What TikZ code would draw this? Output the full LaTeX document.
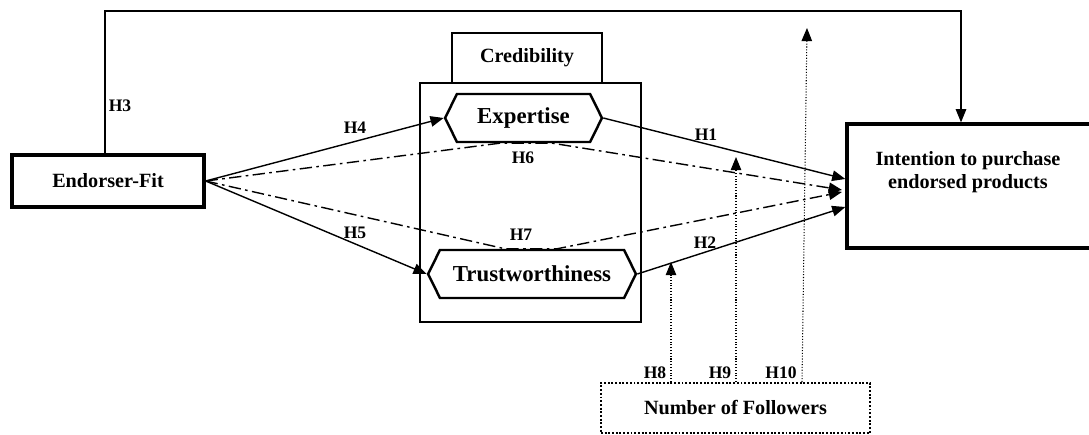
\documentclass[tikz,border=0pt]{standalone}
\usepackage{fontspec}
\setmainfont{Liberation Serif}
\usetikzlibrary{arrows.meta,calc,shapes.symbols}
\tikzset{
  doboz/.style={draw,line width=1.2pt,font=\bfseries\fontsize{11.5}{13}\selectfont,inner sep=2pt},
  vastag/.style={doboz,line width=1.9pt},
  hatszog/.style={draw,line width=1.4pt,signal,signal to=east and west,signal pointer angle=127,
                  font=\bfseries\fontsize{13}{15}\selectfont,inner sep=2pt},
  pontdoboz/.style={doboz,line width=1.1pt,densely dotted},
  nyil/.style={-{Triangle[length=7.5pt,width=6pt]},line width=0.8pt},
  pvnyil/.style={nyil,dash pattern=on 7pt off 2.5pt on 1.5pt off 2.5pt},
  pnyil/.style={nyil,line width=0.6pt,densely dotted},
  cimke/.style={font=\bfseries\fontsize{10}{12}\selectfont,inner sep=1pt},
}
\begin{document}
\begin{tikzpicture}[x=0.02cm,y=-0.02cm]
  \useasboundingbox (0,0) rectangle (1089,435);
  \clip (0,0) rectangle (1089,435);
  % konstruktumok
  \node[vastag,minimum width=3.84cm,minimum height=1.04cm] (efit) at (108,181) {Endorser-Fit};
  \node[doboz,minimum width=3.0cm,minimum height=1.0cm] (credlbl) at (527,58) {Credibility};
  \node[doboz,minimum width=4.42cm,minimum height=4.78cm] (cred) at (530.5,202.5) {};
  \node[hatszog,minimum width=3.14cm,minimum height=0.96cm] (exp) at (523.5,118) {Expertise};
  \node[hatszog,minimum width=4.16cm,minimum height=0.96cm] (trust) at (532,274) {Trustworthiness};
  \node[vastag,minimum width=4.96cm,minimum height=2.48cm] (intent) at (971,186) {};
  \node[doboz,draw=none,align=center] (intentlbl) at (968,172) {Intention to purchase\\endorsed products};
  \node[pontdoboz,minimum width=5.38cm,minimum height=1.0cm] (foll) at (735.5,408) {Number of Followers};
  % kozvetlen hatasok
  \coordinate (topL) at (105,11);
  \coordinate (topR) at (961,11);
  \draw[nyil,line width=0.6pt] (efit.north -| topL) -- (topL) -- (topR) -- (intent.north -| topR);
  \draw[nyil] (efit.east) -- (exp.west);
  \draw[nyil] (efit.east) -- (trust.west);
  \draw[nyil] (exp.east) -- (intent.west |- 0,179);
  \draw[nyil] (trust.east) -- (intent.west |- 0,207);
  % kozvetett hatasok
  \draw[pvnyil] (efit.east) -- ($(exp.south)+(-24,0)$) -- ($(exp.south)+(29,0)$) -- (842,190);
  \draw[pvnyil] (efit.east) -- ($(trust.north)+(-27,0)$) -- ($(trust.north)+(25,0)$) -- (842,192);
  % moderator
  \draw[pnyil] (foll.north -| 671,0) -- (671,262);
  \draw[pnyil] (foll.north -| 736,0) -- (736,157);
  \draw[pnyil] (foll.north -| 802,0) -- (807,28);
  % cimkek
  \node[cimke] (h1) at (706,135) {H1};
  \node[cimke] (h2) at (705,243) {H2};
  \node[cimke] (h3) at (120,106) {H3};
  \node[cimke] (h4) at (355,128) {H4};
  \node[cimke] (h5) at (355,233) {H5};
  \node[cimke] (h6) at (523,158) {H6};
  \node[cimke] (h7) at (521,235) {H7};
  \node[cimke] (h8) at (655,373) {H8};
  \node[cimke] (h9) at (720,373) {H9};
  \node[cimke] (h10) at (781,373) {H10};
\end{tikzpicture}
\end{document}
